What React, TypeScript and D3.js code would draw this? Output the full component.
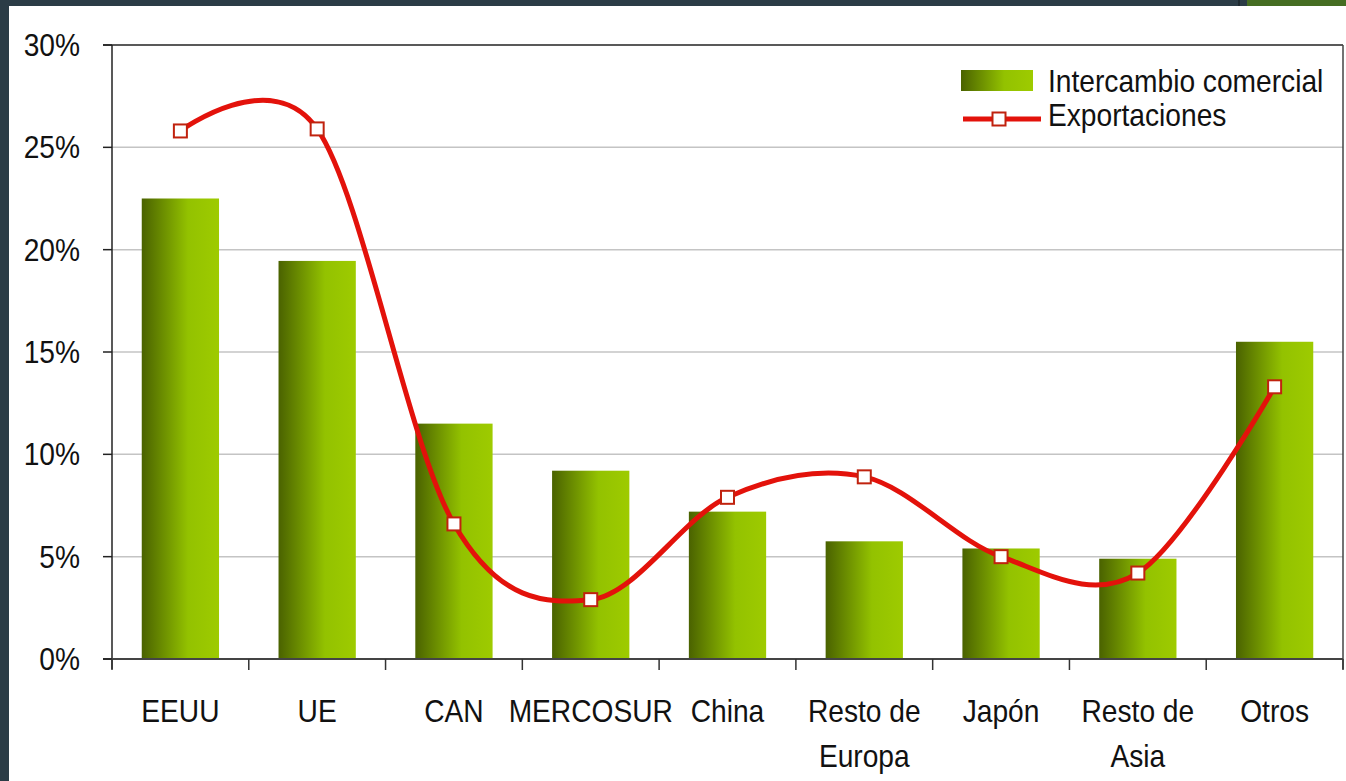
import React from "react";
import * as d3 from "d3";

const categories: string[][] = [
  ["EEUU"],
  ["UE"],
  ["CAN"],
  ["MERCOSUR"],
  ["China"],
  ["Resto de", "Europa"],
  ["Japón"],
  ["Resto de", "Asia"],
  ["Otros"],
];
const intercambio: number[] = [22.5, 19.45, 11.5, 9.2, 7.2, 5.75, 5.4, 4.9, 15.5];
const exportaciones: number[] = [25.8, 25.9, 6.6, 2.9, 7.9, 8.9, 5.0, 4.2, 13.3];
const yTicks: number[] = [0, 5, 10, 15, 20, 25, 30];
const legendLabels: string[] = ["Intercambio comercial", "Exportaciones"];

const W = 1346;
const H = 781;
const left = 112;
const right = 1343;
const top = 45;
const bottom = 659;
const FONT = "'Liberation Sans', Arial, sans-serif";
const SX = 0.88;

export default function App() {
  React.useEffect(() => {
    document.body.style.margin = "0";
    document.body.style.overflow = "hidden";
  }, []);

  const keys = categories.map((c) => c.join(" "));
  const x = d3.scaleBand<string>().domain(keys).range([left, right]).padding(0);
  const y = d3.scaleLinear().domain([0, 30]).range([bottom, top]);
  const bw = x.bandwidth() * 0.565;
  const cx = (i: number) => (x(keys[i]) as number) + x.bandwidth() / 2;

  const line = d3
    .line<number>()
    .x((_, i) => cx(i))
    .y((d) => y(d))
    .curve(d3.curveCardinal.tension(0));

  const T = (props: any) => {
    const { x: tx, y: ty, anchor, children } = props;
    return (
      <text
        transform={`translate(${tx},${ty}) scale(${SX},1)`}
        textAnchor={anchor || "start"}
        fontFamily={FONT}
        fontSize={32}
        fill="#111"
      >
        {children}
      </text>
    );
  };

  const xTickPositions = keys.map((k) => x(k) as number).concat([right]);

  return (
    <svg width={W} height={H} style={{ position: "absolute", left: 0, top: 0, display: "block" }}>
      <defs>
        <linearGradient id="barGrad" x1="0" x2="1" y1="0" y2="0">
          <stop offset="0" stopColor="#4a6200" />
          <stop offset="0.6" stopColor="#93c200" />
          <stop offset="1" stopColor="#9ecb00" />
        </linearGradient>
      </defs>
      {/* background frame */}
      <rect x={0} y={0} width={W} height={H} fill="#2b3c46" />
      <rect x={9} y={6} width={W - 9} height={H - 6} fill="#ffffff" />
      <rect x={1247} y={0} width={W - 1247} height={6} fill="#456d22" />
      <rect x={1238} y={0} width={2} height={6} fill="#1e2a30" />

      {/* gridlines */}
      {yTicks
        .filter((t) => t > 0 && t < 30)
        .map((t) => (
          <line key={t} x1={left} x2={right} y1={y(t)} y2={y(t)} stroke="#c4c4c4" strokeWidth={1.5} />
        ))}

      {/* bars */}
      {intercambio.map((v, i) => (
        <rect
          key={i}
          x={cx(i) - bw / 2}
          y={y(v)}
          width={bw}
          height={y(0) - y(v)}
          fill="url(#barGrad)"
        />
      ))}

      {/* plot frame */}
      <line x1={left - 9} x2={right} y1={y(30)} y2={y(30)} stroke="#222" strokeWidth={1.5} />
      <line x1={right} x2={right} y1={top} y2={bottom + 10} stroke="#444" strokeWidth={1.5} />
      <line x1={left} x2={left} y1={top} y2={bottom + 10} stroke="#222" strokeWidth={1.5} />
      <line x1={left - 9} x2={right} y1={bottom} y2={bottom} stroke="#444" strokeWidth={2} />

      {/* y ticks */}
      {yTicks.map((t) => (
        <g key={t}>
          <line x1={left - 9} x2={left} y1={y(t)} y2={y(t)} stroke="#222" strokeWidth={1.5} />
          <T x={80} y={y(t) + 11} anchor="end">{`${t}%`}</T>
        </g>
      ))}

      {/* x ticks */}
      {xTickPositions.map((p, i) => (
        <line key={i} x1={p} x2={p} y1={bottom} y2={bottom + 11} stroke="#333" strokeWidth={1.5} />
      ))}
      {categories.map((c, i) => (
        <g key={i}>
          {c.map((s, j) => (
            <T key={j} x={cx(i)} y={722 + j * 45} anchor="middle">
              {s}
            </T>
          ))}
        </g>
      ))}

      {/* line */}
      <path d={line(exportaciones) || ""} fill="none" stroke="#e3120b" strokeWidth={5} strokeLinejoin="round" />
      {exportaciones.map((v, i) => (
        <rect
          key={i}
          x={cx(i) - 6.5}
          y={y(v) - 6.5}
          width={13}
          height={13}
          fill="#ffffff"
          stroke="#c0220e"
          strokeWidth={2}
        />
      ))}

      {/* legend */}
      <rect x={961} y={70} width={72} height={21} fill="url(#barGrad)" />
      <T x={1048} y={92}>{legendLabels[0]}</T>
      <line x1={963} x2={1041} y1={119} y2={119} stroke="#e3120b" strokeWidth={5} />
      <rect x={992.5} y={112.5} width={13} height={13} fill="#fff" stroke="#c0220e" strokeWidth={2} />
      <T x={1048} y={126}>{legendLabels[1]}</T>
    </svg>
  );
}
